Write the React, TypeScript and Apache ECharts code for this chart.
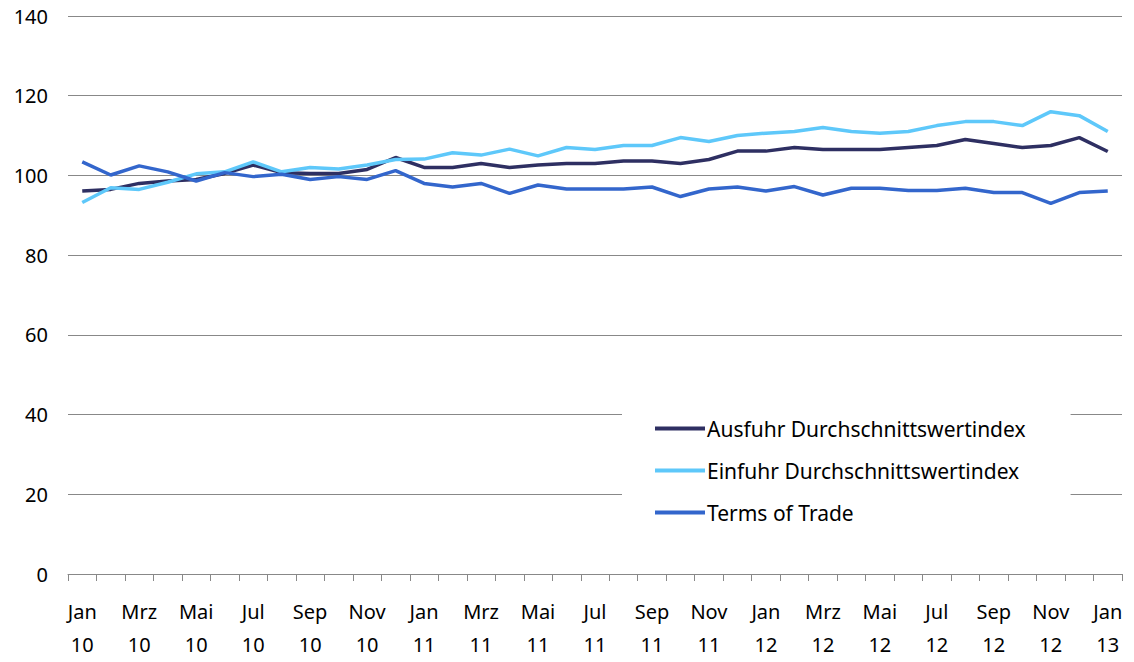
import React, { useEffect, useRef } from "react";
import * as echarts from "echarts";

const months = ["Jan", "Feb", "Mrz", "Apr", "Mai", "Jun", "Jul", "Aug", "Sep", "Okt", "Nov", "Dez"];
const years = ["10", "11", "12", "13"];
const categories: string[] = [];
for (let y = 0; y < 3; y++) for (let m = 0; m < 12; m++) categories.push(months[m] + "\n" + years[y]);
categories.push("Jan\n13");

const ausfuhr = [
  96.1, 96.5, 98.0, 98.6, 99.0, 100.5, 102.6, 100.7, 100.5, 100.5, 101.5, 104.5,
  102.0, 102.0, 103.0, 102.0, 102.6, 103.0, 103.0, 103.6, 103.6, 103.0, 104.0, 106.1,
  106.1, 107.0, 106.5, 106.5, 106.5, 107.0, 107.5, 109.0, 108.0, 107.0, 107.5, 109.5,
  106.0,
];
const einfuhr = [
  93.2, 96.9, 96.5, 98.3, 100.4, 100.9, 103.4, 100.9, 102.0, 101.6, 102.6, 104.0,
  104.1, 105.7, 105.1, 106.6, 104.9, 107.0, 106.5, 107.5, 107.5, 109.5, 108.5, 110.0,
  110.6, 111.0, 112.0, 111.0, 110.6, 111.0, 112.5, 113.5, 113.5, 112.5, 116.0, 115.0,
  111.0,
];
const termsOfTrade = [
  103.4, 100.1, 102.4, 100.9, 98.6, 100.7, 99.7, 100.3, 99.0, 99.7, 99.0, 101.2,
  98.0, 97.1, 98.0, 95.5, 97.6, 96.6, 96.6, 96.6, 97.1, 94.7, 96.6, 97.1,
  96.1, 97.2, 95.1, 96.8, 96.8, 96.2, 96.2, 96.8, 95.7, 95.7, 93.0, 95.7,
  96.1,
];

const FONT = "Noto Sans";

export default function App() {
  const ref = useRef<HTMLDivElement>(null);
  useEffect(() => {
    if (!ref.current) return;
    const chart = echarts.init(ref.current, undefined, { renderer: "svg" });
    const mk = (name: string, data: number[], color: string) => ({
      name,
      type: "line",
      data,
      symbol: "none",
      showSymbol: false,
      lineStyle: { color, width: 3.5 },
      itemStyle: { color },
      z: 3,
    });
    chart.setOption({
      animation: false,
      textStyle: { fontFamily: FONT },
      grid: { left: 68, right: 12, top: 16, bottom: 88 },
      legend: {
        orient: "vertical",
        left: 622,
        top: 408,
        backgroundColor: "#ffffff",
        padding: [10, 45, 10, 33],
        itemGap: 21,
        itemWidth: 50,
        itemHeight: 4,
        icon: "rect",
        textStyle: { fontFamily: FONT, fontSize: 21, color: "#000", padding: [0, 0, 0, -3] },
        data: ["Ausfuhr Durchschnittswertindex", "Einfuhr Durchschnittswertindex", "Terms of Trade"],
        z: 10,
      },
      xAxis: {
        type: "category",
        data: categories,
        boundaryGap: true,
        axisLine: { lineStyle: { color: "#888", width: 1 } },
        axisTick: { show: true, interval: 0, length: 7, lineStyle: { color: "#888" } },
        axisLabel: {
          interval: 1,
          color: "#000",
          fontFamily: FONT,
          fontSize: 20,
          lineHeight: 33,
          margin: 21,
        },
        splitLine: { show: false },
      },
      yAxis: {
        type: "value",
        min: 0,
        max: 140,
        interval: 20,
        axisLine: { show: false },
        axisTick: { show: false },
        axisLabel: { color: "#000", fontFamily: FONT, fontSize: 20, margin: 20 },
        splitLine: { lineStyle: { color: "#888", width: 1 } },
      },
      series: [
        mk("Ausfuhr Durchschnittswertindex", ausfuhr, "#2e2f62"),
        mk("Einfuhr Durchschnittswertindex", einfuhr, "#5ec8fa"),
        mk("Terms of Trade", termsOfTrade, "#3366cc"),
      ],
    });
    return () => chart.dispose();
  }, []);
  return <div ref={ref} style={{ position: "absolute", left: 0, top: 0, width: 1134, height: 662 }} />;
}
